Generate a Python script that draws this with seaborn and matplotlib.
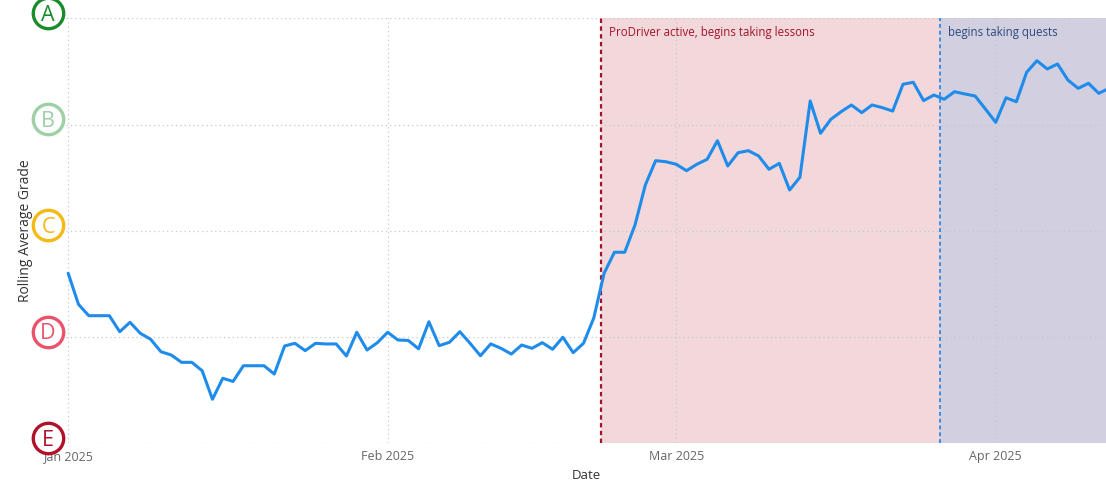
import numpy as np
import pandas as pd
import matplotlib
matplotlib.use("Agg")
import matplotlib.pyplot as plt
import matplotlib.transforms as mtransforms
import seaborn as sns

sns.set_theme(style="white")
plt.rcParams['font.family'] = ['Open Sans', 'DejaVu Sans']

# rolling average grade per day, E=0 ... A=4
grade = [1.600, 1.308, 1.201, 1.201, 1.201, 1.050, 1.139, 1.035, 0.979, 0.862,
         0.831, 0.762, 0.762, 0.683, 0.414, 0.612, 0.582, 0.730, 0.730, 0.730,
         0.652, 0.916, 0.941, 0.872, 0.941, 0.935, 0.935, 0.822, 1.045, 0.878,
         0.947, 1.045, 0.972, 0.968, 0.889, 1.144, 0.919, 0.951, 1.050, 0.941,
         0.824, 0.935, 0.894, 0.840, 0.925, 0.894, 0.947, 0.885, 0.998, 0.853,
         0.941, 1.180, 1.600, 1.798, 1.798, 2.055, 2.431, 2.660, 2.650, 2.626,
         2.566, 2.626, 2.673, 2.848, 2.610, 2.735, 2.754, 2.704, 2.579, 2.635,
         2.384, 2.504, 3.222, 2.918, 3.049, 3.121, 3.184, 3.112, 3.184, 3.159,
         3.127, 3.379, 3.398, 3.225, 3.278, 3.238, 3.309, 3.288, 3.269, 3.146,
         3.021, 3.252, 3.215, 3.492, 3.601, 3.523, 3.570, 3.419, 3.341, 3.388,
         3.294, 3.341]
start_date = "2025-01-01"

grade_letters = ["E", "D", "C", "B", "A"]
grade_colors = ["#b0122a", "#e9546b", "#f5b914", "#9fcfa6", "#1a8a2a"]

month_ticks = ["2025-01-01", "2025-02-01", "2025-03-01", "2025-04-01"]
month_labels = ["Jan 2025", "Feb 2025", "Mar 2025", "Apr 2025"]

lessons_date = pd.Timestamp("2025-02-21 17:00")
quests_date = pd.Timestamp("2025-03-26 14:00")
lessons_text = "ProDriver active, begins taking lessons"
quests_text = "begins taking quests"

df = pd.DataFrame({"Date": pd.date_range(start_date, periods=len(grade), freq="D"),
                   "grade": grade})

fig = plt.figure(figsize=(11.06, 4.83), dpi=100)
ax = fig.add_axes([0.0597, 0.0822, 0.9403, 0.8799])

t0 = pd.Timestamp(start_date)
xmin = t0 - pd.Timedelta(hours=5)
xmax = t0 + pd.Timedelta(days=100.7)

ax.axvspan(lessons_date, quests_date, color="#f2d8db", lw=0, zorder=0)
ax.axvspan(quests_date, xmax, color="#d1cfe0", lw=0, zorder=0)
ax.axvline(lessons_date, color="#a3142c", ls=(0, (2, 1.5)), lw=1.6, zorder=1)
ax.axvline(quests_date, color="#3a8ee6", ls=(0, (2, 1.5)), lw=1.4, zorder=1)

sns.lineplot(data=df, x="Date", y="grade", ax=ax, color="#1f8ceb", lw=2.2, zorder=3)

ax.set_xlim(xmin, xmax)
ax.set_ylim(0, 4)
ax.set_xticks(pd.to_datetime(month_ticks))
ax.set_xticklabels(month_labels, fontsize=9, color="#666666")
ax.set_yticks(range(5))
ax.set_yticklabels([])
ax.tick_params(axis="both", length=0)
ax.tick_params(axis="x", pad=5)
ax.grid(True, linestyle=(0, (1, 2.5)), color="#c8c8c8", lw=0.9, zorder=0)
for s in ax.spines.values():
    s.set_visible(False)

ax.set_xlabel("Date", fontsize=9.5, color="#333333", labelpad=4)
ax.set_ylabel("Rolling Average Grade", fontsize=10, color="#333333", labelpad=20)

# circled grade letters as y tick labels
trans = mtransforms.blended_transform_factory(ax.transAxes, ax.transData)
for g, (letter, col) in enumerate(zip(grade_letters, grade_colors)):
    ax.scatter([-0.0173], [g + 0.05], s=480, transform=trans, clip_on=False,
               facecolor="white", edgecolor=col, linewidth=2.4, zorder=5)
    ax.text(-0.0173, g + 0.03, letter, transform=trans, ha="center", va="center",
            fontsize=15.5, color=col, zorder=6, clip_on=False)

ax.text(lessons_date + pd.Timedelta(days=0.8), 3.87, lessons_text, fontsize=8.3,
        color="#a3142c", va="center", ha="left")
ax.text(quests_date + pd.Timedelta(days=0.8), 3.87, quests_text, fontsize=8.3,
        color="#2c4a80", va="center", ha="left")

fig.savefig("out.png", dpi=100)
